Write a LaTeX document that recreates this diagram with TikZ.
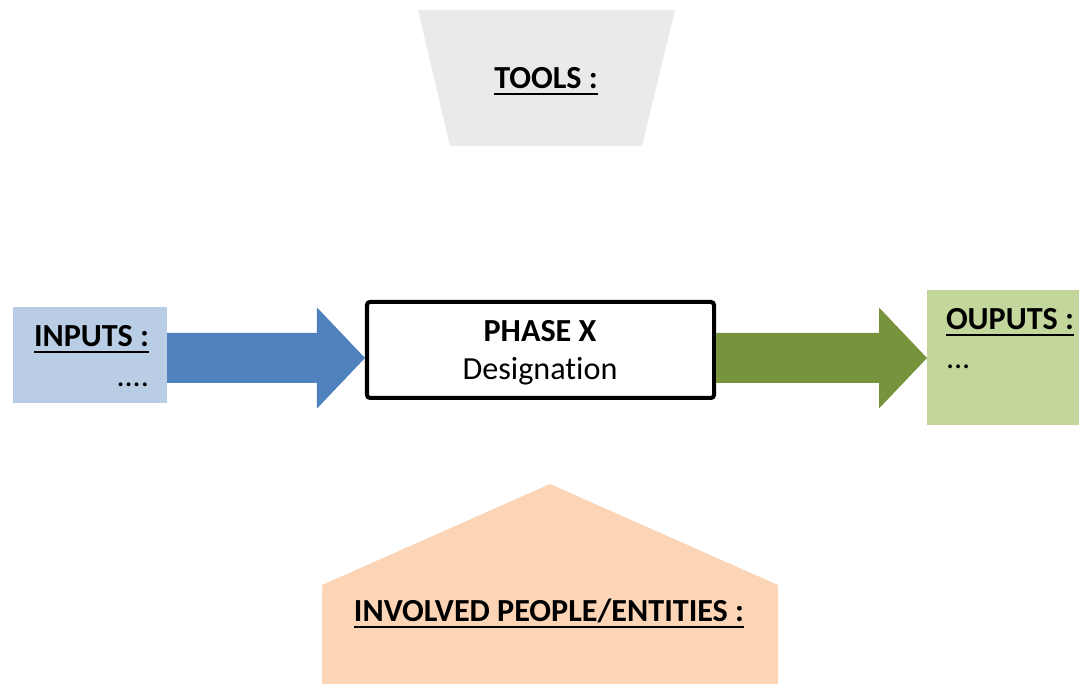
\documentclass[tikz,border=0pt]{standalone}
\usepackage{fontspec}
\setmainfont{Carlito}[Ligatures=CommonOff]
\usepackage{tikz}
\usetikzlibrary{arrows.meta,calc}

\newcommand{\undl}[1]{\setbox0\hbox{#1}\rlap{#1}\rule[-3.2pt]{\wd0}{1.1pt}}

\definecolor{inblue}{HTML}{4F81BD}
\definecolor{inpale}{HTML}{B9CDE5}
\definecolor{outgreen}{HTML}{77933C}
\definecolor{outpale}{HTML}{C3D69B}
\definecolor{peach}{HTML}{FBD5B5}
\definecolor{toolgray}{HTML}{EAEAEA}

\begin{document}
\begin{tikzpicture}[x=0.2mm, y=-0.2mm, font=\fontsize{18.3}{22}\selectfont]
\useasboundingbox (0,0) rectangle (1079,684);

\tikzstyle{txt}=[inner sep=0pt, outer sep=0pt]
\tikzstyle{bigarrow}=[line width=10mm,
    -{Triangle[length=9.6mm, width=20.2mm, line width=0pt]}]

% tools and people shapes
\fill[toolgray] (418,10) -- (675,10) -- (642,146) -- (450,146) -- cycle;
\fill[peach] (322,684) -- (322,585) -- (550,484) -- (778,585) -- (778,684) -- cycle;

\node[txt, anchor=base] (tools) at (546,89) {\bfseries\undl{TOOLS :}};
\node[txt, anchor=base] (people) at (549,622) {\bfseries\undl{INVOLVED PEOPLE/ENTITIES :}};

% boxes
\node[rectangle, fill=inpale, outer sep=0pt, minimum width=30.8mm,
    minimum height=19.2mm] (inputs) at (90,355) {};
\node[rectangle, fill=outpale, outer sep=0pt, minimum width=30.4mm,
    minimum height=27mm] (outputs) at (1003,357.5) {};
\node[rectangle, draw, line width=0.8mm, rounded corners=0.6mm,
    minimum width=69.4mm, minimum height=19.2mm] (phase) at (540.5,350) {};

\node[txt, anchor=base east] (inlbl) at (149,347) {\bfseries\undl{INPUTS :}};
\node[txt, anchor=base east] (indots) at (149,387) {....};
\node[txt, anchor=base west] (outlbl) at (946,330) {\bfseries\undl{OUPUTS :}};
\node[txt, anchor=base west] (outdots) at (946,369) {...};
\node[txt, anchor=base] (phaselbl) at (540,342) {\bfseries PHASE X};
\node[txt, anchor=base] (phasedes) at (540,380) {Designation};

% arrows
\draw[bigarrow, inblue] ([yshift=-0.6mm]inputs.east) -- ([yshift=-1.6mm]phase.west);
\draw[bigarrow, outgreen] ([yshift=-1.6mm]phase.east) -- ([yshift=-0.1mm]outputs.west);
\end{tikzpicture}
\end{document}
